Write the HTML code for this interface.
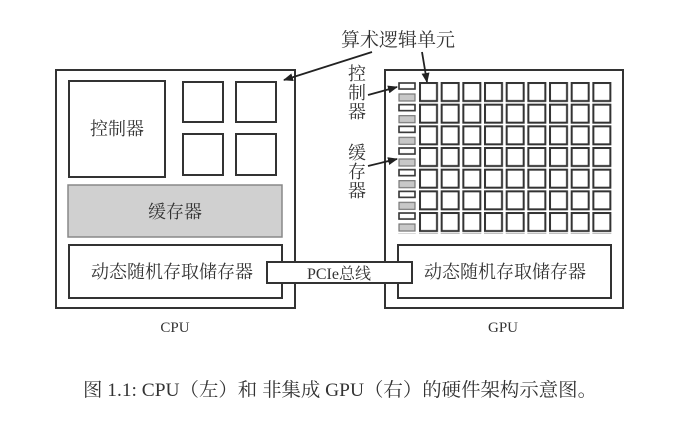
<!DOCTYPE html>
<html><head><meta charset="utf-8"><style>
body{margin:0;background:#fff;}
svg{display:block;}
text{font-family:"Liberation Serif","Noto Serif CJK SC",serif;fill:#333;}
</style></head><body>
<svg width="700" height="421" viewBox="0 0 700 421" xmlns="http://www.w3.org/2000/svg">
<defs>
<pattern id="cells" x="419" y="82" width="21.67" height="21.67" patternUnits="userSpaceOnUse">
<rect x="1" y="1" width="17" height="18" fill="#fff" stroke="#333" stroke-width="2"/>
</pattern>
<pattern id="side" x="398" y="82" width="21" height="21.67" patternUnits="userSpaceOnUse">
<rect x="1" y="1" width="16" height="6" fill="#fff" stroke="#333" stroke-width="1.6"/>
<rect x="1" y="12" width="16" height="7" fill="#c8c8c8" stroke="#777" stroke-width="1.2"/>
</pattern>
<marker id="ah" markerWidth="10" markerHeight="8" refX="9" refY="4" orient="auto" markerUnits="userSpaceOnUse">
<path d="M0,0 L10,4 L0,8 Z" fill="#222"/>
</marker>
</defs>
<!-- CPU -->
<rect x="56" y="70" width="239" height="238" fill="#fff" stroke="#333" stroke-width="2"/>
<rect x="69" y="81" width="96" height="96" fill="#fff" stroke="#333" stroke-width="2"/>
<text x="117" y="135" font-size="18" text-anchor="middle">控制器</text>
<rect x="183" y="82" width="40" height="40" fill="#fff" stroke="#333" stroke-width="2"/>
<rect x="236" y="82" width="40" height="40" fill="#fff" stroke="#333" stroke-width="2"/>
<rect x="183" y="134" width="40" height="41" fill="#fff" stroke="#333" stroke-width="2"/>
<rect x="236" y="134" width="40" height="41" fill="#fff" stroke="#333" stroke-width="2"/>
<rect x="68" y="185" width="214" height="52" fill="#d0d0d0" stroke="#888" stroke-width="1.5"/>
<text x="175" y="218" font-size="18" text-anchor="middle">缓存器</text>
<rect x="69" y="245" width="213" height="53" fill="#fff" stroke="#333" stroke-width="2"/>
<text x="172" y="278" font-size="18" text-anchor="middle">动态随机存取储存器</text>
<text x="175" y="332" font-size="15" text-anchor="middle">CPU</text>
<!-- GPU -->
<rect x="385" y="70" width="238" height="238" fill="#fff" stroke="#333" stroke-width="2"/>
<rect x="419" y="82" width="195" height="152" fill="url(#cells)"/>
<rect x="398" y="82" width="20" height="152" fill="url(#side)"/>
<rect x="398" y="245" width="213" height="53" fill="#fff" stroke="#333" stroke-width="2"/>
<text x="505" y="278" font-size="18" text-anchor="middle">动态随机存取储存器</text>
<text x="503" y="332" font-size="15" text-anchor="middle">GPU</text>
<!-- PCIe -->
<rect x="267" y="262" width="145" height="21" fill="#fff" stroke="#333" stroke-width="2"/>
<text x="339" y="279" font-size="16" text-anchor="middle">PCIe总线</text>
<!-- labels -->
<text x="398" y="46" font-size="19" text-anchor="middle">算术逻辑单元</text>
<line x1="372" y1="52" x2="284" y2="80" stroke="#222" stroke-width="1.8" marker-end="url(#ah)"/>
<line x1="422" y1="52" x2="427" y2="82" stroke="#222" stroke-width="1.8" marker-end="url(#ah)"/>
<text x="357" y="80" font-size="18" text-anchor="middle">控</text>
<text x="357" y="99" font-size="18" text-anchor="middle">制</text>
<text x="357" y="118" font-size="18" text-anchor="middle">器</text>
<text x="357" y="159" font-size="18" text-anchor="middle">缓</text>
<text x="357" y="178" font-size="18" text-anchor="middle">存</text>
<text x="357" y="197" font-size="18" text-anchor="middle">器</text>
<line x1="368" y1="95" x2="397" y2="87" stroke="#222" stroke-width="1.8" marker-end="url(#ah)"/>
<line x1="368" y1="166" x2="397" y2="159" stroke="#222" stroke-width="1.8" marker-end="url(#ah)"/>
<!-- caption -->
<text x="83" y="396" font-size="19" textLength="514" lengthAdjust="spacingAndGlyphs" fill="#111">图 1.1: CPU（左）和 非集成 GPU（右）的硬件架构示意图。</text>
</svg>
</body></html>
